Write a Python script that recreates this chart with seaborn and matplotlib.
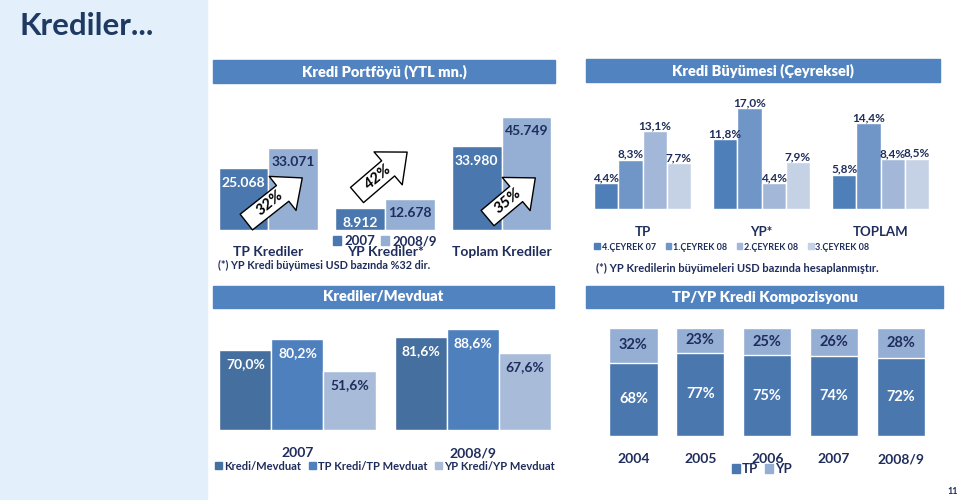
import matplotlib
matplotlib.use('Agg')
import matplotlib.pyplot as plt
from matplotlib.patches import Rectangle, Patch
import seaborn as sns
import pandas as pd

# --- data ---
portfoy_groups = ['TP Krediler', 'YP Krediler*', 'Toplam Krediler']
portfoy_years = ['2007', '2008/9']
portfoy_2007 = [25068, 8912, 33980]
portfoy_2008 = [33071, 12678, 45749]
portfoy_growth = ['32%', '42%', '35%']

buyume_groups = ['TP', 'YP*', 'TOPLAM']
buyume_quarters = ['4.ÇEYREK 07', '1.ÇEYREK 08', '2.ÇEYREK 08', '3.ÇEYREK 08']
buyume_q4_07 = [4.4, 11.8, 5.8]
buyume_q1_08 = [8.3, 17.0, 14.4]
buyume_q2_08 = [13.1, 4.4, 8.4]
buyume_q3_08 = [7.7, 7.9, 8.5]

mevduat_years = ['2007', '2008/9']
mevduat_series = ['Kredi/Mevduat', 'TP Kredi/TP Mevduat', 'YP Kredi/YP Mevduat']
kredi_mevduat = [70.0, 81.6]
tp_mevduat = [80.2, 88.6]
yp_mevduat = [51.6, 67.6]

komp_years = ['2004', '2005', '2006', '2007', '2008/9']
komp_tp = [68, 77, 75, 74, 72]
komp_yp = [32, 23, 25, 26, 28]

NAVY = '#1F2D5C'
HEADER = '#5083BF'
W, H = 959, 500

sns.set_theme(style='white')
plt.rcParams['font.family'] = ['Lato', 'DejaVu Sans']


def box(x0, y0, x1, y1):
    return [x0 / W, 1 - y1 / H, (x1 - x0) / W, (y1 - y0) / H]


def fx(x):
    return x / W


def fy(y):
    return 1 - y / H


def pct(v):
    return f'{v:.1f}%'.replace('.', ',')


def thousands(v):
    return f'{v:,}'.replace(',', '.')


def clean(ax):
    ax.set_facecolor('none')
    for s in ax.spines.values():
        s.set_visible(False)
    ax.set_xticks([])
    ax.set_yticks([])
    ax.set_xlabel('')
    ax.set_ylabel('')


def header(x0, y0, x1, y1, text):
    fig.add_artist(Rectangle((fx(x0), fy(y1)), (x1 - x0) / W, (y1 - y0) / H,
                             transform=fig.transFigure, color=HEADER, zorder=1))
    fig.text(fx((x0 + x1) / 2), fy((y0 + y1) / 2), text, ha='center', va='center',
             color='white', fontsize=10.5, fontweight='heavy', zorder=2)


def label_inside(ax, cont, texts, color, size, off_px):
    for bar, t in zip(cont, texts):
        ax.annotate(t, (bar.get_x() + bar.get_width() / 2, bar.get_y() + bar.get_height()),
                    xytext=(0, -off_px), textcoords='offset pixels', ha='center', va='center',
                    color=color, fontsize=size, fontweight='bold')


def legend(handles, cx, cy, size, **kw):
    fig.legend(handles=handles, loc='center', bbox_to_anchor=(fx(cx), fy(cy)),
               ncol=len(handles), frameon=False, handlelength=0.6,
               handleheight=0.6, handletextpad=0.2, borderaxespad=0, labelcolor=NAVY,
               prop={'weight': 'bold', 'size': size}, **kw)


fig = plt.figure(figsize=(9.59, 5), dpi=100)
fig.patch.set_facecolor('white')

# left light panel + title
fig.add_artist(Rectangle((0, 0), fx(207), 1, transform=fig.transFigure,
                         color='#E3F0FB', zorder=0))
fig.text(fx(19), fy(26), 'Krediler...', fontsize=22.5, fontweight='bold', color='#1F3A62',
         va='center', ha='left')

# ---------------- Kredi Portföyü ----------------
header(213, 60, 555, 83, 'Kredi Portföyü (YTL mn.)')
b1 = (213, 100, 555, 230)
ax1 = fig.add_axes(box(*b1))
df1 = pd.DataFrame({'grup': portfoy_groups * 2,
                    'yil': [portfoy_years[0]] * 3 + [portfoy_years[1]] * 3,
                    'deger': portfoy_2007 + portfoy_2008})
pal1 = ['#4A78AE', '#94AFD3']
sns.barplot(data=df1, x='grup', y='deger', hue='yil', palette=pal1, width=0.855,
            saturation=1, errorbar=None, legend=False, ax=ax1)
ax1.set_xlim(-0.476, 2.459)
ax1.set_ylim(0, 52400)
clean(ax1)
label_inside(ax1, ax1.containers[0], [thousands(v) for v in portfoy_2007], 'white', 10, 15)
label_inside(ax1, ax1.containers[1], [thousands(v) for v in portfoy_2008], NAVY, 10, 14)

arrows = [(-0.19, 3200, 0.29, 21000), (-0.24, 14100, 0.19, 31400), (-0.12, 4800, 0.29, 21000)]
for i, (g, (tx, ty, hx, hy)) in enumerate(zip(portfoy_growth, arrows)):
    ax1.annotate('', xy=(i + hx, hy), xytext=(i + tx, ty),
                 arrowprops=dict(arrowstyle='simple,head_length=0.75,head_width=1.3,tail_width=0.6',
                                 fc='white', ec='black', lw=1, mutation_scale=24,
                                 shrinkA=0, shrinkB=0))
    mx = i + tx + (hx - tx) * 0.42
    my = ty + (hy - ty) * 0.42
    ax1.text(mx, my, g, rotation=40, ha='center', va='center', fontsize=11.5,
             fontweight='bold', fontstyle='italic', color='black')

for i, name in enumerate(portfoy_groups):
    ax1.text(i, (230 - 252) / 130, name, transform=ax1.get_xaxis_transform(),
             ha='center', va='center', color=NAVY, fontsize=10, fontweight='bold')
legend([Patch(color=c, label=l) for c, l in zip(pal1, portfoy_years)], 385, 241, 9.5,
       columnspacing=0.5)
fig.text(fx(218), fy(265), '(*) YP Kredi büyümesi USD bazında %32 dir.', color=NAVY,
         fontsize=7.8, fontweight='bold', va='center')

# ---------------- Kredi Büyümesi ----------------
header(586, 59, 940, 82, 'Kredi Büyümesi (Çeyreksel)')
b2 = (586, 90, 940, 209)
ax2 = fig.add_axes(box(*b2))
series2 = [buyume_q4_07, buyume_q1_08, buyume_q2_08, buyume_q3_08]
df2 = pd.DataFrame({'grup': buyume_groups * 4,
                    'ceyrek': [q for q in buyume_quarters for _ in buyume_groups],
                    'deger': [v for s in series2 for v in s]})
pal2 = ['#4F7FB8', '#7096C8', '#A3B8D9', '#C5D1E5']
sns.barplot(data=df2, x='grup', y='deger', hue='ceyrek', palette=pal2, width=0.813,
            saturation=1, errorbar=None, legend=False, ax=ax2)
ax2.set_xlim(-0.475, 2.5)
ax2.set_ylim(0, 20.03)
clean(ax2)
for cont, s in zip(ax2.containers, series2):
    ax2.bar_label(cont, labels=[pct(v) for v in s], padding=0, color=NAVY,
                  fontsize=8.5, fontweight='bold')
for i, name in enumerate(buyume_groups):
    ax2.text(i, (209 - 232) / 119, name, transform=ax2.get_xaxis_transform(),
             ha='center', va='center', color=NAVY, fontsize=9.5, fontweight='bold')
legend([Patch(color=c, label=l) for c, l in zip(pal2, buyume_quarters)], 732, 247, 6.5,
       columnspacing=1.1)
fig.text(fx(596), fy(268), '(*) YP Kredilerin büyümeleri USD bazında hesaplanmıştır.',
         color=NAVY, fontsize=8, fontweight='bold', va='center')

# ---------------- Krediler/Mevduat ----------------
header(213, 286, 554, 308, 'Krediler/Mevduat')
b3 = (213, 310, 554, 430)
ax3 = fig.add_axes(box(*b3))
series3 = [kredi_mevduat, tp_mevduat, yp_mevduat]
df3 = pd.DataFrame({'yil': mevduat_years * 3,
                    'seri': [s for s in mevduat_series for _ in mevduat_years],
                    'deger': [v for s in series3 for v in s]})
pal3 = ['#456F9F', '#4E80BE', '#A8BCDA']
sns.barplot(data=df3, x='yil', y='deger', hue='seri', palette=pal3, width=0.89,
            saturation=1, errorbar=None, legend=False, ax=ax3)
ax3.set_xlim(-0.481, 1.4615)
ax3.set_ylim(0, 105.3)
clean(ax3)
for cont, s, col in zip(ax3.containers, series3, ['white', 'white', NAVY]):
    label_inside(ax3, cont, [pct(v) for v in s], col, 10, 14)
for i, name in enumerate(mevduat_years):
    ax3.text(i, (430 - 453) / 120, name, transform=ax3.get_xaxis_transform(),
             ha='center', va='center', color=NAVY, fontsize=10, fontweight='bold')
legend([Patch(color=c, label=l) for c, l in zip(pal3, mevduat_series)], 385, 466, 8,
       columnspacing=0.7)

# ---------------- TP/YP Kredi Kompozisyonu ----------------
header(586, 286, 943, 308, 'TP/YP Kredi Kompozisyonu')
b4 = (586, 310, 943, 436)
ax4 = fig.add_axes(box(*b4))
komp_total = [a + b for a, b in zip(komp_tp, komp_yp)]
pal4 = ['#4A77AE', '#95AED3']
sns.barplot(x=komp_years, y=komp_total, color=pal4[1], width=0.72, saturation=1,
            errorbar=None, ax=ax4)
sns.barplot(x=komp_years, y=komp_tp, color=pal4[0], width=0.72, saturation=1,
            errorbar=None, ax=ax4)
ax4.set_xlim(-0.71, 4.628)
ax4.set_ylim(0, 116.7)
clean(ax4)
for i, (tp, yp) in enumerate(zip(komp_tp, komp_yp)):
    ax4.text(i, tp / 2, f'{tp}%', ha='center', va='center', color='white',
             fontsize=10.5, fontweight='bold')
    ax4.text(i, tp + yp / 2, f'{yp}%', ha='center', va='center', color=NAVY,
             fontsize=10.5, fontweight='bold')
for i, name in enumerate(komp_years):
    ax4.text(i, (436 - 459) / 126, name, transform=ax4.get_xaxis_transform(),
             ha='center', va='center', color=NAVY, fontsize=10, fontweight='bold')
legend([Patch(color=c, label=l) for c, l in zip(pal4, ['TP', 'YP'])], 762, 469, 9.5,
       columnspacing=0.5)

fig.text(fx(953), fy(491), '11', color=NAVY, fontsize=6.5, fontweight='bold',
         ha='center', va='center')

fig.savefig('out.png', dpi=100)
